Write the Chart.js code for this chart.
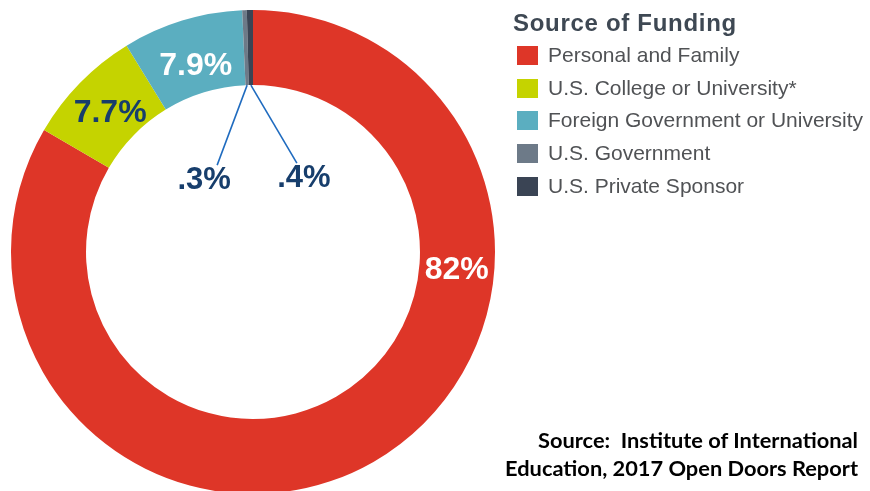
<!DOCTYPE html>
<html>
<head>
<meta charset="utf-8">
<script src="https://cdn.jsdelivr.net/npm/chart.js@4/dist/chart.umd.min.js"></script>
<style>
  html, body { margin:0; padding:0; width:870px; height:491px; overflow:hidden; background:#fff; }
  #wrap { position:absolute; left:0; top:0; width:870px; height:500px; }
  #legend { position:absolute; left:513px; top:8px; font-family:"Liberation Sans", Arial, sans-serif; }
  #legend .title { font-weight:bold; font-size:24px; color:#3e4853; height:32px; line-height:30px; letter-spacing:0.7px; white-space:nowrap; }
  #legend .item { position:relative; height:32.7px; line-height:30px; font-size:21px; color:#505255; padding-left:35px; white-space:nowrap; }
  #legend .sw { position:absolute; left:4px; top:6px; width:21px; height:19px; }
  #source { position:absolute; right:12px; top:426px; text-align:right; font-family:Lato, "Open Sans", sans-serif; font-weight:bold; font-size:21.8px; line-height:28px; color:#000; white-space:pre; }
</style>
</head>
<body>
<div id="wrap"><canvas id="c" width="870" height="500"></canvas></div>
<div id="legend"></div>
<div id="source"></div>
<script>
// ---- data ----
const categories = ["Personal and Family", "U.S. College or University*", "Foreign Government or University", "U.S. Government", "U.S. Private Sponsor"];
const values = [82, 7.7, 7.9, 0.3, 0.4];
const valueLabels = ["82%", "7.7%", "7.9%", ".3%", ".4%"];
const legendTitle = "Source of Funding";
const sourceLines = ["Source:  Institute of International", "Education, 2017 Open Doors Report"];

// ---- styles ----
const colors = ["#de3628", "#c5d300", "#5baec0", "#6d7a88", "#3a4454"];
const labelColors = ["#ffffff", "#173e6c", "#ffffff", "#173e6c", "#173e6c"];

// legend
const lg = document.getElementById('legend');
const t = document.createElement('div'); t.className = 'title'; t.textContent = legendTitle; lg.appendChild(t);
categories.forEach((c, i) => {
  const d = document.createElement('div'); d.className = 'item';
  const s = document.createElement('span'); s.className = 'sw'; s.style.background = colors[i];
  d.appendChild(s); d.appendChild(document.createTextNode(c)); lg.appendChild(d);
});
document.getElementById('source').textContent = sourceLines.join("\n");

// label placement (fraction along arc, fraction across ring; leader offsets for tiny slices)
const labelFrac = [0.316, 0.5, 0.5, null, null];
const labelRing = [0.5, 0.44, 0.38, null, null];
const leader = [null, null, null, {dx:-30, dy:80, tx:-13}, {dx:46, dy:78, tx:7}];

const labelPlugin = {
  id: 'sliceLabels',
  afterDatasetsDraw(chart) {
    const ctx = chart.ctx;
    const meta = chart.getDatasetMeta(0);
    meta.data.forEach((arc, i) => {
      const p = arc.getProps(['x','y','startAngle','endAngle','innerRadius','outerRadius'], true);
      ctx.save();
      ctx.fillStyle = labelColors[i];
      ctx.textAlign = 'center';
      if (labelFrac[i] !== null) {
        const a = p.startAngle + (p.endAngle - p.startAngle) * labelFrac[i];
        const r = p.innerRadius + (p.outerRadius - p.innerRadius) * labelRing[i];
        ctx.font = 'bold 32px "Liberation Sans", Arial, sans-serif';
        ctx.textBaseline = 'middle';
        ctx.fillText(valueLabels[i], p.x + Math.cos(a) * r, p.y + Math.sin(a) * r + 1);
      } else {
        const L = leader[i];
        const a = (p.startAngle + p.endAngle) / 2;
        const sx = p.x + Math.cos(a) * p.innerRadius;
        const sy = p.y + Math.sin(a) * p.innerRadius;
        ctx.strokeStyle = '#1f6bbf';
        ctx.lineWidth = 1.6;
        ctx.beginPath(); ctx.moveTo(sx, sy); ctx.lineTo(sx + L.dx, sy + L.dy); ctx.stroke();
        ctx.font = 'bold 31px "Liberation Sans", Arial, sans-serif';
        ctx.textBaseline = 'alphabetic';
        ctx.fillText(valueLabels[i], sx + L.dx + L.tx, sy + L.dy + 24);
      }
      ctx.restore();
    });
  }
};

new Chart(document.getElementById('c'), {
  type: 'doughnut',
  data: {
    labels: categories,
    datasets: [{ data: values, backgroundColor: colors, borderWidth: 0, hoverOffset: 0 }]
  },
  options: {
    responsive: false,
    animation: false,
    cutout: '69%',
    layout: { padding: { left: 11, top: 10, right: 375, bottom: 6 } },
    plugins: { legend: { display: false }, tooltip: { enabled: false } }
  },
  plugins: [labelPlugin]
});
</script>
</body>
</html>
